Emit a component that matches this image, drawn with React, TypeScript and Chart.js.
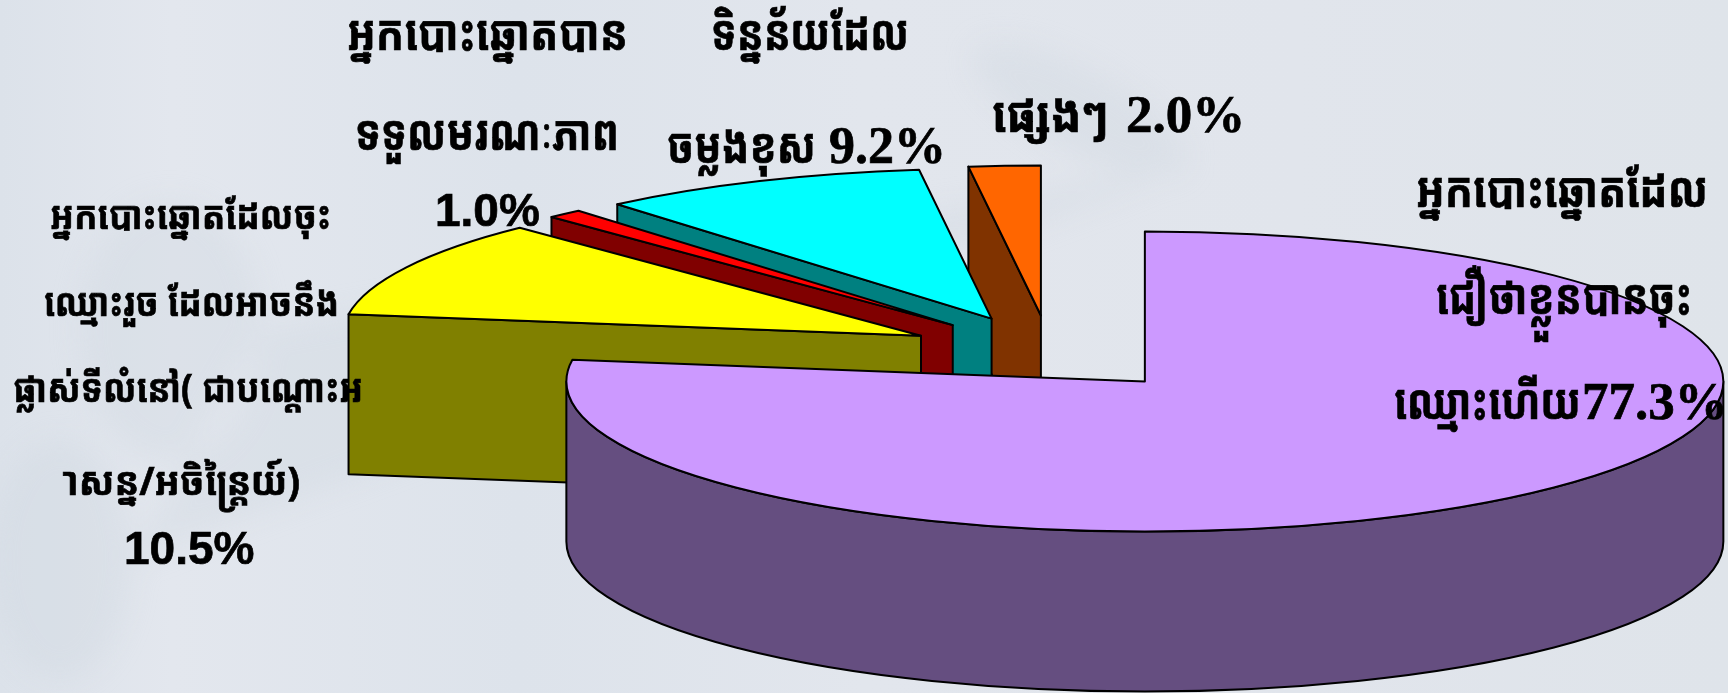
import React, { useEffect, useRef } from "react";
import { Chart, registerables } from "chart.js";

Chart.register(...registerables);

const categories = ["Believed registered", "Registered, may have moved", "Deceased voters", "Wrong copied data", "Other"];
const shares = [77.3, 10.5, 1.0, 9.2, 2.0];
const topColors = ["#CC99FF", "#FFFF00", "#FF0000", "#00FFFF", "#FF6600"];
const sideColors = ["#654E80", "#808000", "#800000", "#008080", "#803300"];

const khmerLines = [
  "អ្នកបោះឆ្នោតបាន",
  "ទទួលមរណៈភាព",
  "ទិន្នន័យដែល",
  "ចម្លងខុស",
  "ផ្សេងៗ",
  "អ្នកបោះឆ្នោតដែល",
  "ជឿថាខ្លួនបានចុះ",
  "ឈ្មោះហើយ",
  "អ្នកបោះឆ្នោតដែលចុះ",
  "ឈ្មោះរួច ដែលអាចនឹង",
  "ផ្លាស់ទីលំនៅ( ជាបណ្តោះអ",
  "\u00A0ាសន្ន/អចិន្ត្រៃយ៍)",
];
const percentLabels = ["1.0%", "9.2%", "2.0%", "77.3%", "10.5%"];

// left, target width, baseline, font size for each Khmer line
const khmerLayout = [
  [347, 281, 50, 49],
  [355, 264, 150, 49],
  [711, 198, 50, 49],
  [667, 149, 163, 49],
  [992, 116, 132, 49],
  [1416, 292, 207, 49],
  [1436, 256, 314, 49],
  [1394, 187, 419, 49],
  [50, 281, 229, 39],
  [44, 295, 316, 39],
  [13, 350, 402, 39],
  [58, 242, 495, 39],
];
// left, baseline, font
const percentLayout: [number, number, string][] = [
  [435, 226, "bold 46px 'Liberation Sans', Arial, sans-serif"],
  [829, 163, "bold 52px 'Liberation Serif', serif"],
  [1126, 132, "bold 53px 'Liberation Serif', serif"],
  [1582, 419, "bold 53px 'Liberation Serif', serif"],
  [124, 564, "bold 46px 'Liberation Sans', Arial, sans-serif"],
];

const SQUASH = 0.2593;
const DEPTH = 160;

const pie3d = {
  id: "pie3d",
  beforeDraw(chart: any) {
    const { ctx, width, height } = chart;
    ctx.save();
    const g = ctx.createLinearGradient(0, 0, width, 0);
    g.addColorStop(0, "#DCE2EA");
    g.addColorStop(0.1, "#E3E7EE");
    g.addColorStop(0.3, "#DDE3EB");
    g.addColorStop(0.5, "#E2E6ED");
    g.addColorStop(0.75, "#E1E5EC");
    g.addColorStop(1, "#DFE4EA");
    ctx.fillStyle = g;
    ctx.fillRect(0, 0, width, height);
    ctx.fillStyle = "rgba(205,214,224,0.35)";
    ctx.filter = "blur(14px)";
    ctx.beginPath();
    ctx.ellipse(170, 330, 90, 130, 0, 0, Math.PI * 2);
    ctx.ellipse(60, 560, 70, 120, 0, 0, Math.PI * 2);
    ctx.ellipse(1080, 110, 120, 40, 0.5, 0, Math.PI * 2);
    ctx.fill();
    ctx.filter = "none";
    ctx.restore();
  },
  beforeDatasetsDraw(chart: any) {
    const { ctx } = chart;
    const arcs = chart.getDatasetMeta(0).data;
    ctx.save();
    ctx.lineWidth = 2;
    ctx.strokeStyle = "#000";
    ctx.lineJoin = "round";
    for (let i = arcs.length - 1; i >= 0; i--) {
      const arc = arcs[i];
      const { x, y, startAngle: a, endAngle: b, outerRadius: r } = arc.getProps(["x", "y", "startAngle", "endAngle", "outerRadius"], true);
      const mid = (a + b) / 2;
      const off = arc.options.offset;
      const px = x + Math.cos(mid) * off;
      const py = y + Math.sin(mid) * off * SQUASH;
      const ry = r * SQUASH;
      const pt = (t: number) => [px + Math.cos(t) * r, py + Math.sin(t) * ry];
      const face = (t: number) => {
        const [qx, qy] = pt(t);
        ctx.beginPath();
        ctx.moveTo(px, py);
        ctx.lineTo(qx, qy);
        ctx.lineTo(qx, qy + DEPTH);
        ctx.lineTo(px, py + DEPTH);
        ctx.closePath();
        ctx.fillStyle = sideColors[i];
        ctx.fill();
        ctx.stroke();
      };
      if (Math.cos(a) < -1e-6) face(a);
      if (Math.cos(b) > 1e-6) face(b);
      const f0 = Math.max(a, 0);
      const f1 = Math.min(b, Math.PI);
      if (f1 > f0) {
        ctx.beginPath();
        ctx.ellipse(px, py, r, ry, 0, f0, f1);
        ctx.ellipse(px, py + DEPTH, r, ry, 0, f1, f0, true);
        ctx.closePath();
        ctx.fillStyle = sideColors[i];
        ctx.fill();
        ctx.stroke();
      }
      ctx.beginPath();
      ctx.moveTo(px, py);
      ctx.ellipse(px, py, r, ry, 0, a, b);
      ctx.closePath();
      ctx.fillStyle = topColors[i];
      ctx.fill();
      ctx.stroke();
    }
    ctx.restore();
    return false;
  },
  afterDraw(chart: any) {
    const { ctx } = chart;
    ctx.save();
    ctx.fillStyle = "#000";
    ctx.strokeStyle = "#000";
    ctx.lineWidth = 0.7;
    ctx.textAlign = "left";
    ctx.textBaseline = "alphabetic";
    khmerLines.forEach((text, i) => {
      const [left, w, base, size] = khmerLayout[i];
      ctx.font = `bold ${size}px 'Noto Sans Khmer', 'Noto Serif Khmer', 'Khmer OS', serif`;
      const m = ctx.measureText(text).width;
      ctx.save();
      ctx.translate(left, base);
      ctx.scale(w / m, 1);
      ctx.fillText(text, 0, 0);
      ctx.strokeText(text, 0, 0);
      ctx.restore();
    });
    percentLabels.forEach((text, i) => {
      const [left, base, font] = percentLayout[i];
      ctx.font = font;
      ctx.fillText(text, left, base);
      ctx.strokeText(text, left, base);
    });
    ctx.restore();
  },
};

export default function App() {
  const ref = useRef<HTMLCanvasElement>(null);
  useEffect(() => {
    const chart = new Chart(ref.current!, {
      type: "pie",
      data: {
        labels: categories,
        datasets: [{ data: shares, backgroundColor: topColors, borderColor: "#000", borderWidth: 1, offset: 145, hoverOffset: 0 }],
      },
      options: {
        animation: false,
        responsive: false,
        devicePixelRatio: 1,
        radius: 578.5,
        layout: { padding: { left: 372, top: 13, right: 0, bottom: 0 } },
        plugins: { legend: { display: false }, tooltip: { enabled: false } },
      } as any,
      plugins: [pie3d as any],
    });
    return () => chart.destroy();
  }, []);
  return (
    <div style={{ position: "fixed", left: 0, top: 0, width: 1728, height: 693, overflow: "hidden" }}>
      <canvas ref={ref} width={1728} height={693} style={{ display: "block" }} />
    </div>
  );
}
